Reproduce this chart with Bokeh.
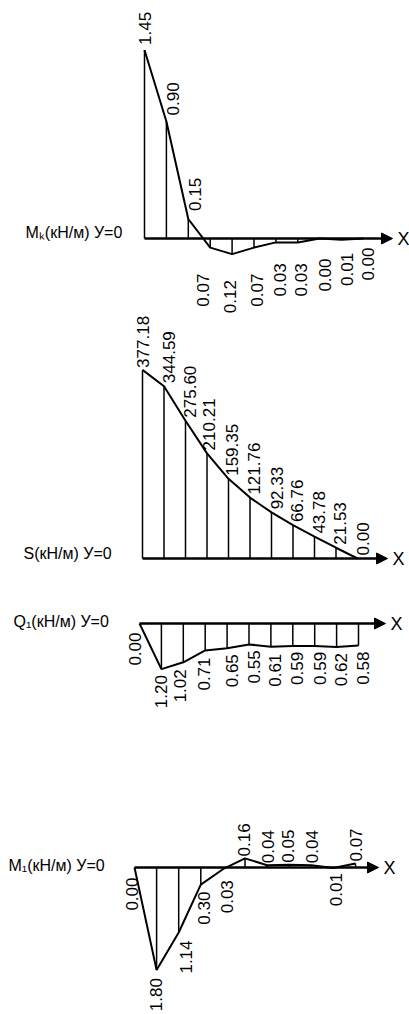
import math
from bokeh.plotting import figure
from bokeh.layouts import column
from bokeh.models import Range1d, Arrow, NormalHead
from bokeh.core.properties import value
from bokeh.embed import file_html
from bokeh.resources import INLINE

# ---------------- data ----------------
stations = [0, 1, 2, 3, 4, 5, 6, 7, 8, 9, 10]
mk_values = [1.45, 0.90, 0.15, -0.07, -0.12, -0.07, -0.03, -0.03, 0.00, -0.01, 0.00]
s_values = [377.18, 344.59, 275.60, 210.21, 159.35, 121.76, 92.33, 66.76, 43.78, 21.53, 0.00]
q1_values = [0.00, -1.20, -1.02, -0.71, -0.65, -0.55, -0.61, -0.59, -0.59, -0.62, -0.58]
m1_values = [0.00, -1.80, -1.14, -0.30, -0.03, 0.16, 0.04, 0.05, 0.04, -0.01, 0.07]
titles = ["Mₖ(кН/м) У=0", "S(кН/м) У=0", "Q₁(кН/м) У=0", "M₁(кН/м) У=0"]
axis_name = "X"

# ---------------- layout / style ----------------
FONT = "Liberation Sans"
W = 409          # figure width
PAGE_X = 0       # page x of the figures' left edge

# each panel: top, height, baseline (page y), px per unit, first station x, station step,
# arrow tip x, title position (page x, page y), label x offsets, label gaps, all labels above?
panels = [
    dict(T=0, H=314, B=238, k=130.0, x0=144, dx=21.9, tip=392, tx=25, ty=232,
         xo=[0, 7, 7, -7, -2, 3, 4, 3, 5, 5, 4],
         gap=[5, 6, 8, 26, 26, 26, 21, 21, 20, 13, 9], all_up=False),
    dict(T=314, H=281, B=558, k=0.50, x0=142, dx=21.5, tip=387, tx=23, ty=553,
         xo=[0, 5, 4, 2, 3, 4, 5, 4, 4, 4, 5],
         gap=[2, 3, 3, 3, 3, 3, 3, 3, 3, 3, 3], all_up=True),
    dict(T=595, H=125, B=623, k=38.0, x0=139, dx=21.9, tip=385, tx=13, ty=621,
         xo=[-5, 0, -3, -1, 5, 5, 4, 4, 5, 4, 4],
         gap=[9, 6, 7, 7, 6, 6, 7, 6, 6, 6, 6], all_up=False),
    dict(T=720, H=292, B=867, k=57.0, x0=134, dx=22.1, tip=378, tx=8, ty=865,
         xo=[-3, -1, 7, 3, 4, -1, 1, -1, 1, 3, 0],
         gap=[10, 8, 8, 7, 11, 2, 2, 2, 2, 5, 2], all_up=False),
]
series = [mk_values, s_values, q1_values, m1_values]


def build(cfg, vals, title):
    T, H, B, k, x0, dx = cfg["T"], cfg["H"], cfg["B"], cfg["k"], cfg["x0"], cfg["dx"]
    px = lambda xp: (xp - x0) / dx
    py = lambda yp: (B - yp) / k
    p = figure(width=W, height=H,
               x_range=Range1d(px(PAGE_X), px(PAGE_X + W)),
               y_range=Range1d(py(T + H), py(T)),
               toolbar_location=None, output_backend="svg", min_border=0,
               x_axis_location=None, y_axis_location=None,
               outline_line_color=None)
    p.grid.visible = False

    # ordinates (hatching)
    p.segment(x0=stations, y0=[0] * len(stations), x1=stations, y1=vals,
              line_color="black", line_width=1.5)
    # diagram outline
    p.line(stations, vals, line_color="black", line_width=2)
    # axis with arrow
    p.add_layout(Arrow(end=NormalHead(size=11, fill_color="black", line_color="black"),
                       x_start=0, y_start=0, x_end=px(cfg["tip"]), y_end=0,
                       line_color="black", line_width=2.5))

    # value labels (rotated)
    up = [i for i, v in enumerate(vals) if v > 0 or cfg["all_up"]]
    dn = [i for i, v in enumerate(vals) if not (v > 0 or cfg["all_up"])]
    common = dict(angle=math.pi / 2, text_baseline="middle", text_font=value(FONT),
                  text_font_size="17px", text_color="black")
    if up:
        p.text(x=[stations[i] for i in up], y=[vals[i] for i in up],
               text=[f"{abs(vals[i]):.2f}" for i in up],
               x_offset=[cfg["xo"][i] for i in up], y_offset=[-cfg["gap"][i] for i in up],
               text_align="left", **common)
    if dn:
        p.text(x=[stations[i] for i in dn], y=[vals[i] for i in dn],
               text=[f"{abs(vals[i]):.2f}" for i in dn],
               x_offset=[cfg["xo"][i] for i in dn], y_offset=[cfg["gap"][i] for i in dn],
               text_align="right", **common)

    # diagram title and axis name
    p.text(x=[px(cfg["tx"])], y=[py(cfg["ty"])], text=[title], text_align="left",
           text_baseline="middle", text_font=value(FONT), text_font_size="16px",
           text_color="black")
    p.text(x=[px(cfg["tip"] + 5)], y=[0], text=[axis_name], text_align="left",
           text_baseline="middle", text_font=value(FONT), text_font_size="18px",
           text_color="black")
    return p


figs = [build(cfg, vals, t) for cfg, vals, t in zip(panels, series, titles)]
layout = column(*figs, spacing=0)
open("out.html", "w").write(file_html(layout, INLINE))
